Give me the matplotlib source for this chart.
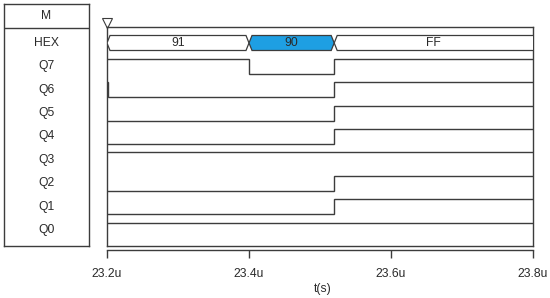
import matplotlib
matplotlib.use("Agg")
import matplotlib.pyplot as plt
from matplotlib.patches import Polygon

plt.rcParams['font.family'] = ['Liberation Sans', 'DejaVu Sans']

# ---- data ----
signal_names = ["HEX", "Q7", "Q6", "Q5", "Q4", "Q3", "Q2", "Q1", "Q0"]
edges = [23.2, 23.4, 23.52, 23.8]           # segment boundaries (us)
hex_values = ["91", "90", "FF"]
hex_highlight = [False, True, False]
bits = {
    "Q7": [1, 0, 1],
    "Q6": [0, 0, 1],
    "Q5": [0, 0, 1],
    "Q4": [0, 0, 1],
    "Q3": [1, 1, 1],
    "Q2": [0, 0, 1],
    "Q1": [0, 0, 1],
    "Q0": [1, 1, 1],
}
q6_glitch = (23.2, 23.2015)   # brief high at start of Q6
xticks = [23.2, 23.4, 23.6, 23.8]
xticklabels = ["23.2u", "23.4u", "23.6u", "23.8u"]
xlabel = "t(s)"
header = "M"

LC = "#3c3c3c"
TC = "#2a2a2a"
BLUE = "#1E9FE3"
FS = 8.7
W, H = 550, 298

fig = plt.figure(figsize=(W / 100, H / 100), dpi=100)

def fa(x0, y0, x1, y1):
    return [x0 / W, 1 - y1 / H, (x1 - x0) / W, (y1 - y0) / H]

# ---- left label box ----
lb = fig.add_axes(fa(4, 4, 89, 246))
lb.set_xlim(0, 1)
lb.set_ylim(246, 4)
lb.set_xticks([]); lb.set_yticks([])
for s in lb.spines.values():
    s.set_color(LC); s.set_linewidth(1.0)
lb.axhline(28, color=LC, lw=1.0)
lb.text(0.5, 16, header, ha="center", va="center", fontsize=FS, color=TC)
pitch = 23.375
for i, name in enumerate(signal_names):
    lb.text(0.5, 43 + i * pitch, name, ha="center", va="center", fontsize=FS, color=TC)

# ---- waveform area ----
ax = fig.add_axes(fa(107, 27, 533, 246))
top_off = (27 - 43) / pitch
bot_off = (246 - 43) / pitch
ax.set_xlim(edges[0], edges[-1])
ax.set_ylim(bot_off, top_off)
ax.set_xticks([]); ax.set_yticks([])
for s in ax.spines.values():
    s.set_color(LC); s.set_linewidth(1.0)

amp = 7.5 / pitch
d = 3.0 / (426 / 0.6)

# bus
for k, val in enumerate(hex_values):
    t0, t1 = edges[k], edges[k + 1]
    c = 0
    if k == len(hex_values) - 1:
        pts = [(t0, c), (t0 + d, c - amp), (t1 + 0.01, c - amp), (t1 + 0.01, c + amp), (t0 + d, c + amp)]
    else:
        pts = [(t0, c), (t0 + d, c - amp), (t1 - d, c - amp), (t1, c), (t1 - d, c + amp), (t0 + d, c + amp)]
    poly = Polygon(pts, closed=True, facecolor=BLUE if hex_highlight[k] else "white",
                   edgecolor=LC, lw=0.9, zorder=3)
    ax.add_patch(poly)
    ax.text((t0 + t1) / 2, c, val, ha="center", va="center", fontsize=FS, color=TC, zorder=4)

# bits
for i, name in enumerate(signal_names[1:], start=1):
    vals = bits[name]
    xs, ys = [], []
    if name == "Q6":
        xs += [q6_glitch[0], q6_glitch[1]]
        ys += [i - amp, i - amp]
    for k, v in enumerate(vals):
        y = i - amp if v else i + amp
        xs += [edges[k] if not (name == "Q6" and k == 0) else q6_glitch[1], edges[k + 1]]
        ys += [y, y]
    ax.plot(xs, ys, color=LC, lw=1.0, solid_joinstyle="miter")

# cursor triangle
ax.plot([edges[0]], [(23.5 - 43) / pitch], marker="v", markersize=6.5,
        markerfacecolor="white", markeredgecolor=LC, markeredgewidth=0.8, clip_on=False)

# ---- time axis ----
ta = fig.add_axes([107 / W, 1 - 249.5 / H, 426 / W, 0.0001])
ta.set_xlim(edges[0], edges[-1])
ta.set_yticks([])
for k in ["top", "left", "right"]:
    ta.spines[k].set_visible(False)
ta.spines["bottom"].set_color(LC)
ta.spines["bottom"].set_linewidth(1.0)
ta.set_xticks(xticks)
ta.set_xticklabels(xticklabels, fontsize=FS, color=TC)
ta.tick_params(axis="x", direction="out", length=6, width=1.0, color=LC, pad=7)
fig.text(323 / W, 1 - 289 / H, xlabel, ha="center", va="center", fontsize=FS, color=TC)

fig.savefig("out.png", dpi=100)
